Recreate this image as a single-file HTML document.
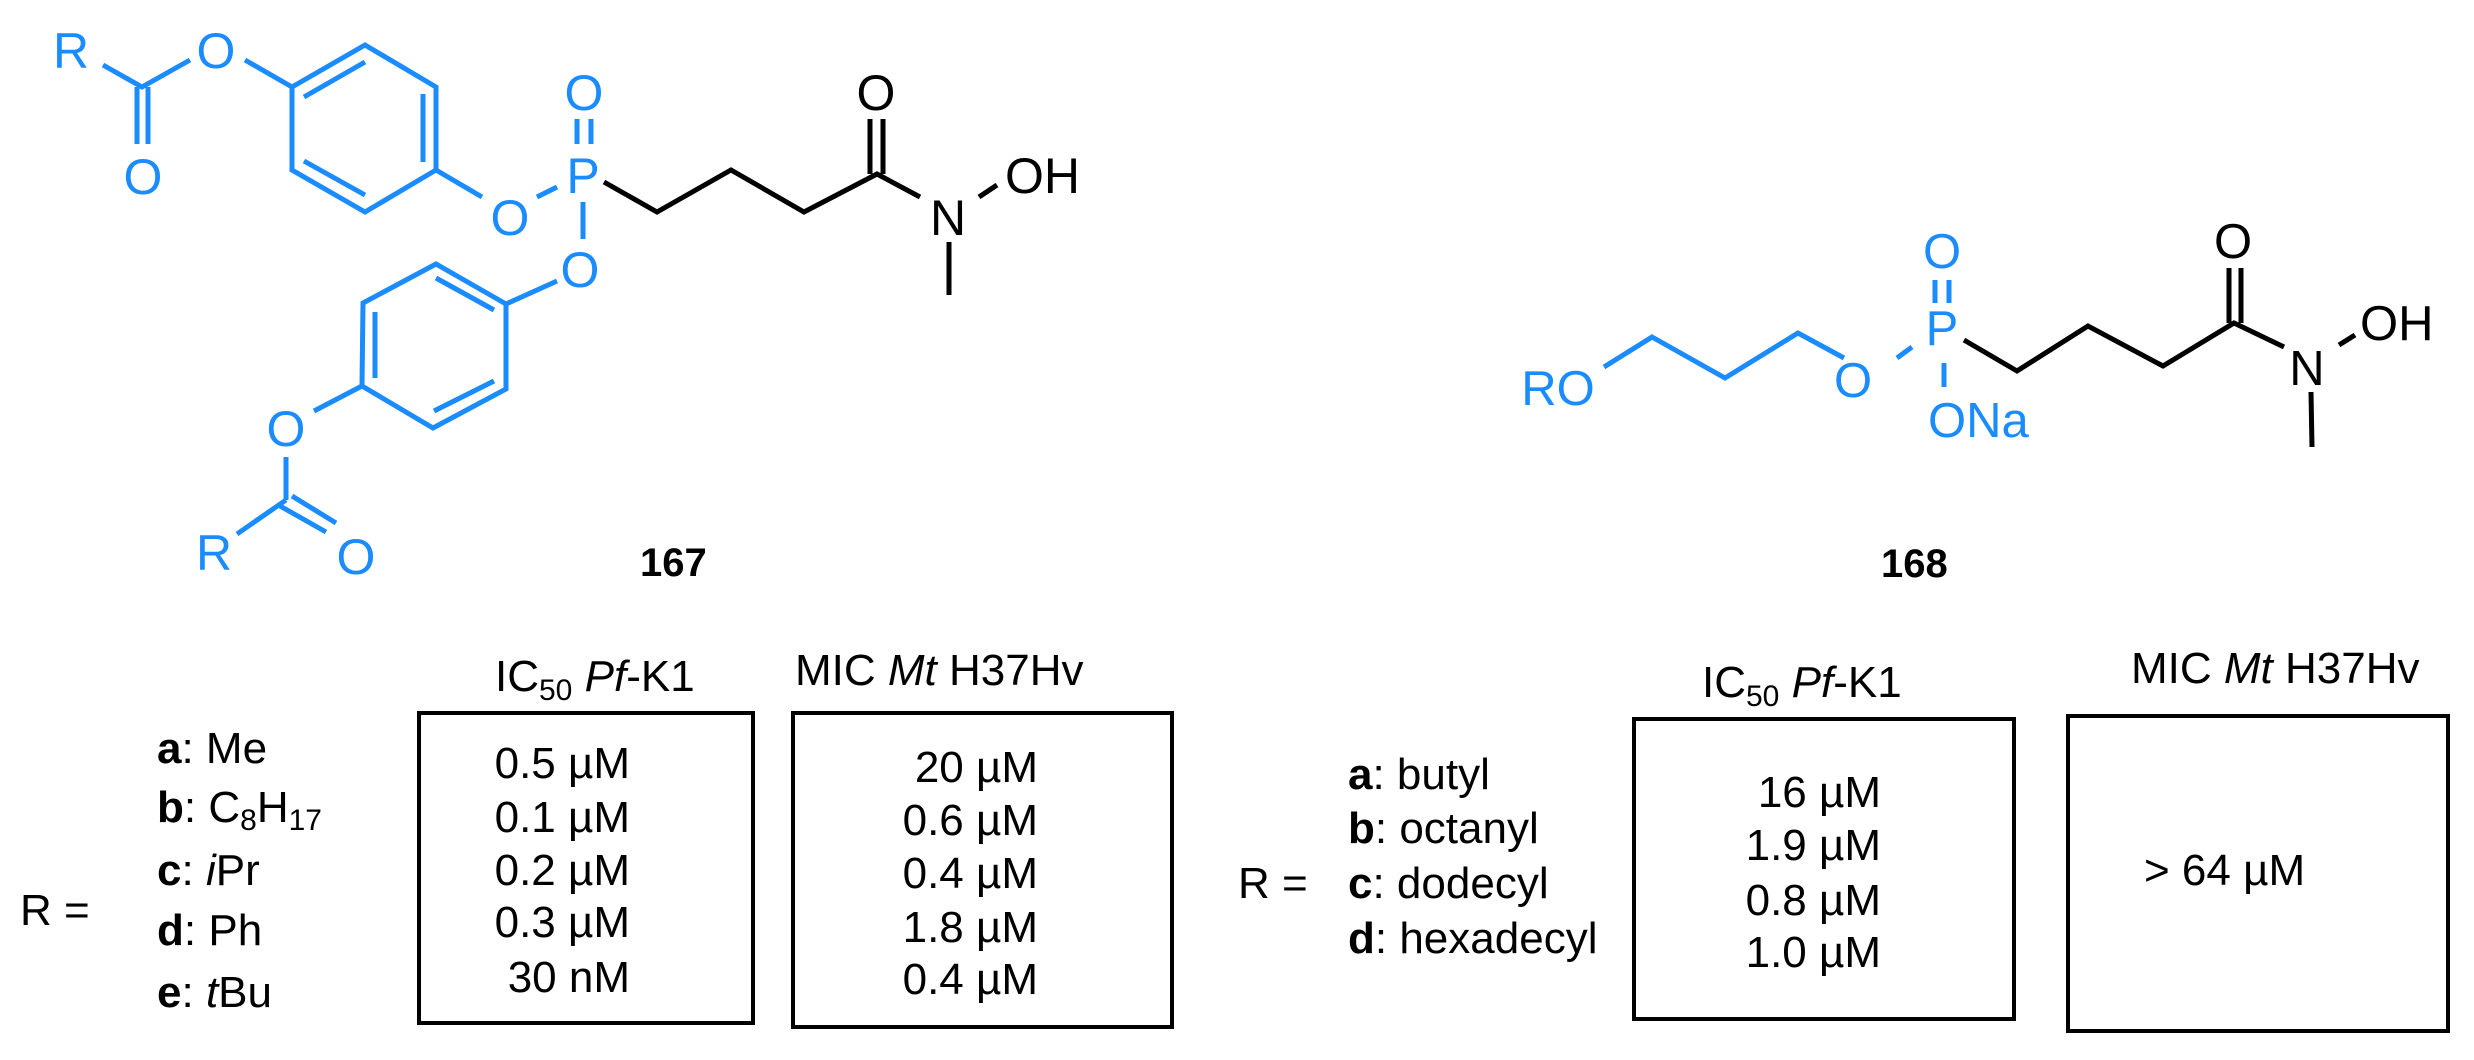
<!DOCTYPE html>
<html><head><meta charset="utf-8"><style>
html,body{margin:0;padding:0;background:#fff;}
svg{display:block;}
text{font-family:"Liberation Sans",Arial,sans-serif;}
</style></head><body>
<svg width="2474" height="1060" viewBox="0 0 2474 1060" xmlns="http://www.w3.org/2000/svg">
<g stroke="#1a8cff" stroke-width="5" fill="none" stroke-linecap="butt">
<polyline points="103,65 142,87 190,60"/>
<line x1="137" y1="87" x2="137" y2="144"/><line x1="148" y1="87" x2="148" y2="144"/>
<line x1="245" y1="60" x2="292" y2="87"/>
<polygon points="292,87 365,45 436,87 436,170 365,212 292,170"/>
<line x1="304" y1="97" x2="365" y2="62"/>
<line x1="423" y1="94" x2="423" y2="162"/>
<line x1="304" y1="161" x2="365" y2="195"/>
<line x1="436" y1="170" x2="482" y2="197"/>
<line x1="537" y1="197" x2="557" y2="187"/>
<line x1="577" y1="119" x2="577" y2="144"/><line x1="591" y1="119" x2="591" y2="144"/>
<line x1="583" y1="202" x2="583" y2="239"/>
<line x1="557" y1="281" x2="506" y2="304"/>
<polygon points="506,304 436,264 363,303 362,386 433,428 506,389"/>
<line x1="436" y1="278" x2="494" y2="310"/>
<line x1="375" y1="312" x2="375" y2="378"/>
<line x1="434" y1="411" x2="494" y2="381"/>
<line x1="362" y1="386" x2="314" y2="411"/>
<line x1="286" y1="457" x2="286" y2="500"/>
<line x1="286" y1="500" x2="237" y2="534"/>
<line x1="280" y1="506" x2="326" y2="532"/><line x1="292" y1="496" x2="336" y2="523"/>
<polyline points="1604,367 1652,337 1725,378 1798,333 1844,358"/>
<line x1="1897" y1="358" x2="1912" y2="347"/>
<line x1="1935" y1="280" x2="1935" y2="303"/><line x1="1949" y1="280" x2="1949" y2="303"/>
<line x1="1944" y1="363" x2="1944" y2="387"/>
</g>
<g stroke="#000" stroke-width="5" fill="none">
<polyline points="604,182 657,212 731,170 804,212 877,174 920,197"/>
<line x1="870" y1="174" x2="870" y2="119"/><line x1="883" y1="174" x2="883" y2="119"/>
<line x1="979" y1="197" x2="997" y2="185"/>
<line x1="949" y1="242" x2="949" y2="295"/>
<polyline points="1964,340 2017,371 2088,326 2163,366 2234,323 2284,347"/>
<line x1="2229" y1="323" x2="2229" y2="268"/><line x1="2241" y1="323" x2="2241" y2="268"/>
<line x1="2339" y1="345" x2="2355" y2="335"/>
<line x1="2311" y1="392" x2="2312" y2="447"/>
</g>
<g fill="#1a8cff" font-size="50" text-anchor="middle">
<text x="71" y="68">R</text>
<text x="216" y="68">O</text>
<text x="143" y="194">O</text>
<text x="510" y="235">O</text>
<text x="583" y="193">P</text>
<text x="584" y="110">O</text>
<text x="580" y="287">O</text>
<text x="286" y="446">O</text>
<text x="214" y="570">R</text>
<text x="356" y="574">O</text>
</g>
<g fill="#1a8cff" font-size="49" text-anchor="middle">
<text x="1558" y="405">RO</text>
<text x="1853" y="397">O</text>
<text x="1942" y="345">P</text>
<text x="1942" y="268">O</text>
<text x="1928" y="437" text-anchor="start">ONa</text>
</g>
<g fill="#000" font-size="50" text-anchor="middle">
<text x="876" y="110">O</text>
<text x="948" y="235">N</text>
<text x="1005" y="193" text-anchor="start">OH</text>
</g>
<g fill="#000" font-size="49" text-anchor="middle">
<text x="2233" y="258">O</text>
<text x="2307" y="385">N</text>
<text x="2360" y="340" text-anchor="start">OH</text>
</g>
<g font-weight="bold" font-size="40">
<text x="640" y="576">167</text>
<text x="1881" y="577">168</text>
</g>
<g fill="none" stroke="#000" stroke-width="4">
<rect x="419" y="713" width="334" height="310"/>
<rect x="793" y="713" width="379" height="314"/>
<rect x="1634" y="719" width="380" height="300"/>
<rect x="2068" y="716" width="380" height="315"/>
</g>
<g font-size="44" fill="#000">
<text x="20" y="925">R =</text>
<text x="157" y="763"><tspan font-weight="bold">a</tspan>: Me</text>
<text x="157" y="822"><tspan font-weight="bold">b</tspan>: C<tspan font-size="30" dy="8">8</tspan><tspan dy="-8">H</tspan><tspan font-size="30" dy="8">17</tspan></text>
<text x="157" y="885"><tspan font-weight="bold">c</tspan>: <tspan font-style="italic">i</tspan>Pr</text>
<text x="157" y="945"><tspan font-weight="bold">d</tspan>: Ph</text>
<text x="157" y="1007"><tspan font-weight="bold">e</tspan>: <tspan font-style="italic">t</tspan>Bu</text>
<text x="495" y="691">IC<tspan font-size="30" dy="9">50</tspan> <tspan dy="-9" font-style="italic">Pf</tspan>-K1</text>
<text x="795" y="685">MIC <tspan font-style="italic">Mt</tspan> H37Hv</text>
<g text-anchor="end">
<text x="630" y="778">0.5 µM</text>
<text x="630" y="832">0.1 µM</text>
<text x="630" y="885">0.2 µM</text>
<text x="630" y="937">0.3 µM</text>
<text x="630" y="992">30 nM</text>
<text x="1038" y="782">20 µM</text>
<text x="1038" y="835">0.6 µM</text>
<text x="1038" y="888">0.4 µM</text>
<text x="1038" y="942">1.8 µM</text>
<text x="1038" y="994">0.4 µM</text>
<text x="1881" y="807">16 µM</text>
<text x="1881" y="860">1.9 µM</text>
<text x="1881" y="915">0.8 µM</text>
<text x="1881" y="967">1.0 µM</text>
</g>
<text x="1238" y="898">R =</text>
<text x="1348" y="789"><tspan font-weight="bold">a</tspan>: butyl</text>
<text x="1348" y="843"><tspan font-weight="bold">b</tspan>: octanyl</text>
<text x="1348" y="898"><tspan font-weight="bold">c</tspan>: dodecyl</text>
<text x="1348" y="953"><tspan font-weight="bold">d</tspan>: hexadecyl</text>
<text x="1702" y="697">IC<tspan font-size="30" dy="9">50</tspan> <tspan dy="-9" font-style="italic">Pf</tspan>-K1</text>
<text x="2131" y="683">MIC <tspan font-style="italic">Mt</tspan> H37Hv</text>
<text x="2144" y="885">&gt; 64 µM</text>
</g>
</svg>
</body></html>
